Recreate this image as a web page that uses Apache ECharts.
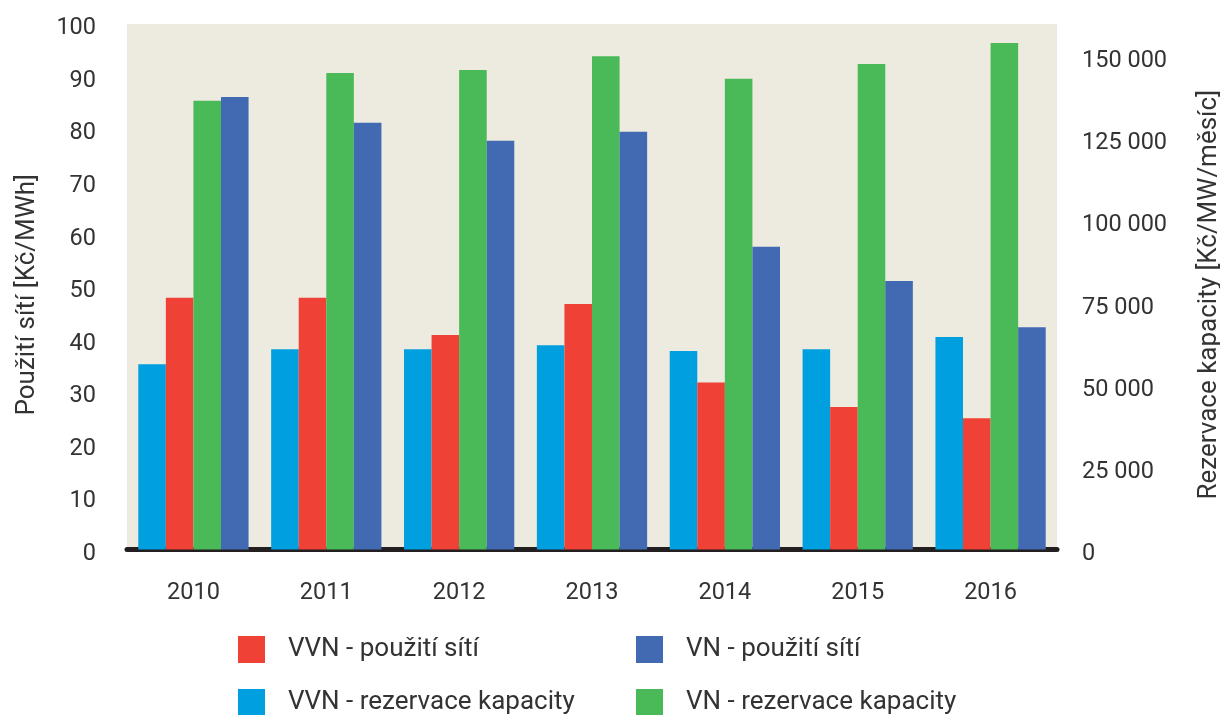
<!DOCTYPE html>
<html>
<head>
<meta charset="utf-8">
<script src="https://cdn.jsdelivr.net/npm/echarts@6/dist/echarts.min.js"></script>
<style>
  html, body { margin: 0; padding: 0; background: #fff; }
  #chart-container { width: 1220px; height: 715px; }
</style>
</head>
<body>
<div id="chart-container"></div>
<script>
var years = ["2010", "2011", "2012", "2013", "2014", "2015", "2016"];
// left axis, Kč/MWh
var vvnUse = [47.9, 47.9, 40.8, 46.7, 31.8, 27.1, 25.0];
var vnUse = [86.1, 81.2, 77.8, 79.5, 57.6, 51.1, 42.3];
// right axis, Kč/MW/měsíc
var vvnReserve = [56400, 61000, 61000, 62200, 60400, 61000, 64700];
var vnReserve = [136600, 145100, 146000, 150200, 143300, 147800, 154200];

var names = {
  vvnUse: "VVN - použití sítí",
  vnUse: "VN - použití sítí",
  vvnReserve: "VVN - rezervace kapacity",
  vnReserve: "VN - rezervace kapacity"
};

var textColor = "#333333";
var font = "Roboto, 'Noto Sans', sans-serif";

var dom = document.getElementById("chart-container");
var myChart = echarts.init(dom, null, { renderer: "canvas" });

function thousands(v) {
  return String(v).replace(/\B(?=(\d{3})+(?!\d))/g, " ");
}

// tick labels sit a few px below their ticks in the original
var tickRich = {
  t: { color: textColor, fontSize: 23.5, fontFamily: font, padding: [9, 0, 0, 0] }
};

function legendAt(name, left, top) {
  return {
    data: [name],
    left: left,
    top: top,
    padding: 0,
    icon: "rect",
    itemWidth: 27,
    itemHeight: 27,
    selectedMode: false,
    textStyle: {
      color: textColor,
      fontSize: 26,
      fontFamily: font,
      padding: [0, 0, 0, 18]
    }
  };
}

var option = {
  backgroundColor: "#ffffff",
  textStyle: { fontFamily: font },
  legend: [
    legendAt(names.vvnUse, 238, 636),
    legendAt(names.vnUse, 636, 636),
    legendAt(names.vvnReserve, 238, 689),
    legendAt(names.vnReserve, 636, 689)
  ],
  grid: {
    left: 127,
    right: 163,
    top: 24,
    bottom: 165.5,
    show: true,
    backgroundColor: "#edeadf",
    borderWidth: 0,
    containLabel: false,
    outerBoundsMode: "none"
  },
  xAxis: {
    type: "category",
    data: years,
    axisLine: { show: true, lineStyle: { color: "#231f20", width: 5 } },
    axisTick: { show: false },
    axisLabel: { color: textColor, fontSize: 23.5, margin: 32, fontFamily: font }
  },
  yAxis: [
    {
      type: "value",
      min: 0,
      max: 100,
      interval: 10,
      name: "Použití sítí [Kč/MWh]",
      nameLocation: "middle",
      nameGap: 87,
      nameTextStyle: { color: textColor, fontSize: 26, fontFamily: font, padding: [0, 16, 0, 0] },
      axisLine: { show: false },
      axisTick: { show: false },
      splitLine: { show: false },
      axisLabel: {
        margin: 31,
        rich: tickRich,
        formatter: function (v) {
          return "{t|" + v + "}";
        }
      }
    },
    {
      type: "value",
      min: 0,
      max: 160000,
      interval: 25000,
      position: "right",
      name: "Rezervace kapacity [Kč/MW/měsíc]",
      nameLocation: "middle",
      nameGap: 139,
      nameTextStyle: { color: textColor, fontSize: 26, fontFamily: font, padding: [0, 16, 0, 0] },
      axisLine: { show: false },
      axisTick: { show: false },
      splitLine: { show: false },
      axisLabel: {
        margin: 25,
        rich: tickRich,
        showMaxLabel: false,
        formatter: function (v) {
          return v > 150000 ? "" : "{t|" + thousands(v) + "}";
        }
      }
    }
  ],
  series: [
    {
      name: names.vvnReserve,
      type: "bar",
      yAxisIndex: 1,
      data: vvnReserve,
      barGap: "0%",
      barCategoryGap: "17%",
      itemStyle: { color: "#009fe0" }
    },
    {
      name: names.vvnUse,
      type: "bar",
      yAxisIndex: 0,
      data: vvnUse,
      barGap: "0%",
      barCategoryGap: "17%",
      itemStyle: { color: "#ef4136" }
    },
    {
      name: names.vnReserve,
      type: "bar",
      yAxisIndex: 1,
      data: vnReserve,
      barGap: "0%",
      barCategoryGap: "17%",
      itemStyle: { color: "#4ab957" }
    },
    {
      name: names.vnUse,
      type: "bar",
      yAxisIndex: 0,
      data: vnUse,
      barGap: "0%",
      barCategoryGap: "17%",
      itemStyle: { color: "#416ab3" }
    }
  ]
};

myChart.setOption(option);
window.addEventListener("resize", myChart.resize);
</script>
</body>
</html>
